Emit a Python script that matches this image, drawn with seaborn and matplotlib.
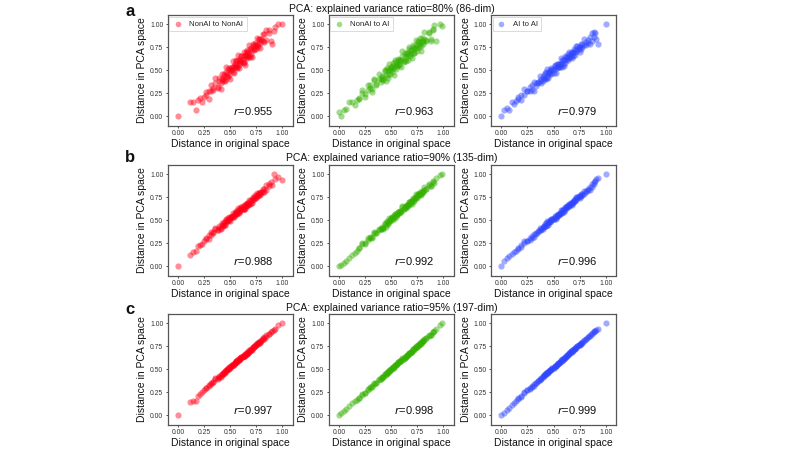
import matplotlib
matplotlib.use("Agg")
import matplotlib.pyplot as plt
import seaborn as sns
import pandas as pd

# ---------------- data ----------------
pair_labels = ["NonAI to NonAI", "NonAI to AI", "AI to AI"]
pca_titles = ["PCA: explained variance ratio=80% (86-dim)",
              "PCA: explained variance ratio=90% (135-dim)",
              "PCA: explained variance ratio=95% (197-dim)"]
panel_letters = ["a", "b", "c"]
r_values = [["0.955", "0.963", "0.979"],
            ["0.988", "0.992", "0.996"],
            ["0.997", "0.998", "0.999"]]

# distances in original space (same pairs for every PCA level)
x_core_nn = [0.27, 0.30, 0.32, 0.34, 0.36, 0.38, 0.39, 0.41, 0.42, 0.43, 0.44, 0.45, 0.46, 0.47,
             0.48, 0.49, 0.50, 0.51, 0.52, 0.53, 0.54, 0.55, 0.56, 0.56, 0.57, 0.58, 0.59, 0.60,
             0.60, 0.61, 0.62, 0.63, 0.63, 0.64, 0.65, 0.66, 0.66, 0.67, 0.68, 0.69, 0.70, 0.71,
             0.72, 0.73, 0.74, 0.75, 0.76, 0.77, 0.78, 0.79, 0.80, 0.82, 0.83, 0.85, 0.87]
x_out_nn = [0.00, 0.12, 0.14, 0.17, 0.19, 0.21, 0.23, 0.25, 0.89, 0.90, 0.92, 0.93, 0.96, 1.00]
x_core_na = [0.19, 0.22, 0.25, 0.28, 0.30, 0.32, 0.34, 0.36, 0.38, 0.40, 0.41, 0.42, 0.44, 0.45,
             0.46, 0.47, 0.48, 0.49, 0.50, 0.51, 0.52, 0.53, 0.54, 0.55, 0.56, 0.57, 0.58, 0.59,
             0.60, 0.61, 0.62, 0.63, 0.64, 0.65, 0.66, 0.67, 0.68, 0.69, 0.70, 0.71, 0.72, 0.73,
             0.74, 0.75, 0.76, 0.77, 0.78, 0.79, 0.80, 0.81, 0.82, 0.84, 0.86, 0.88, 0.90]
x_out_na = [0.00, 0.02, 0.05, 0.07, 0.10, 0.13, 0.15, 0.17, 0.91, 0.93, 0.97, 0.99]
x_core_aa = [0.16, 0.19, 0.22, 0.25, 0.27, 0.29, 0.31, 0.33, 0.35, 0.37, 0.38, 0.40, 0.41, 0.42,
             0.43, 0.44, 0.45, 0.46, 0.47, 0.48, 0.49, 0.50, 0.51, 0.52, 0.53, 0.54, 0.55, 0.56,
             0.57, 0.58, 0.59, 0.60, 0.61, 0.62, 0.63, 0.64, 0.65, 0.66, 0.67, 0.68, 0.69, 0.70,
             0.71, 0.72, 0.73, 0.74, 0.75, 0.76, 0.77, 0.79, 0.81, 0.83, 0.85, 0.87, 0.89]
x_out_aa = [0.00, 0.02, 0.05, 0.07, 0.10, 0.12, 0.14, 0.90, 0.91, 0.93, 1.00]

# distances in PCA space, 80 % (core pairs then outlying pairs), plus a second core sample
y80_nn = [0.26, 0.19, 0.34, 0.29, 0.42, 0.31, 0.38, 0.30, 0.46, 0.38, 0.46, 0.38, 0.53, 0.46,
          0.43, 0.52, 0.41, 0.52, 0.50, 0.60, 0.47, 0.57, 0.54, 0.61, 0.52, 0.67, 0.52, 0.61,
          0.58, 0.65, 0.62, 0.58, 0.70, 0.56, 0.70, 0.66, 0.69, 0.64, 0.77, 0.64, 0.74, 0.64,
          0.79, 0.73, 0.77, 0.73, 0.85, 0.77, 0.84, 0.74, 0.83, 0.89, 0.81, 0.94, 0.90,
          0.00, 0.15, 0.16, 0.07, 0.18, 0.20, 0.16, 0.21, 0.82, 0.79, 0.93, 0.97, 1.00, 1.00]
y80_nn_b = [0.23, 0.28, 0.27, 0.31, 0.36, 0.32, 0.42, 0.36, 0.40, 0.40, 0.44, 0.39, 0.48, 0.44,
            0.51, 0.45, 0.50, 0.50, 0.54, 0.48, 0.55, 0.53, 0.60, 0.56, 0.54, 0.61, 0.56, 0.61,
            0.59, 0.65, 0.59, 0.65, 0.59, 0.67, 0.65, 0.72, 0.63, 0.70, 0.67, 0.73, 0.67, 0.72,
            0.76, 0.72, 0.80, 0.76, 0.79, 0.75, 0.84, 0.80, 0.84, 0.82, 0.89, 0.83, 0.94]
y80_na = [0.19, 0.29, 0.21, 0.34, 0.31, 0.26, 0.39, 0.34, 0.46, 0.37, 0.43, 0.41, 0.50, 0.38,
          0.50, 0.42, 0.57, 0.46, 0.53, 0.51, 0.58, 0.45, 0.61, 0.51, 0.57, 0.62, 0.56, 0.61,
          0.54, 0.71, 0.59, 0.69, 0.63, 0.69, 0.61, 0.75, 0.68, 0.72, 0.63, 0.77, 0.69, 0.74,
          0.83, 0.71, 0.81, 0.75, 0.85, 0.71, 0.82, 0.78, 0.92, 0.83, 0.92, 0.82, 0.94,
          0.05, 0.00, 0.07, 0.08, 0.15, 0.15, 0.12, 0.18, 0.99, 0.82, 1.00, 0.98]
y80_na_b = [0.20, 0.25, 0.24, 0.29, 0.34, 0.30, 0.40, 0.35, 0.40, 0.40, 0.44, 0.39, 0.49, 0.45,
            0.52, 0.45, 0.50, 0.50, 0.54, 0.48, 0.55, 0.52, 0.59, 0.56, 0.55, 0.61, 0.56, 0.61,
            0.60, 0.66, 0.60, 0.65, 0.60, 0.69, 0.67, 0.73, 0.66, 0.72, 0.69, 0.75, 0.69, 0.74,
            0.77, 0.74, 0.82, 0.77, 0.80, 0.76, 0.85, 0.81, 0.84, 0.82, 0.90, 0.84, 0.95]
y80_aa = [0.21, 0.18, 0.30, 0.28, 0.27, 0.34, 0.28, 0.36, 0.36, 0.44, 0.36, 0.43, 0.41, 0.47,
          0.41, 0.51, 0.42, 0.48, 0.46, 0.52, 0.50, 0.47, 0.56, 0.47, 0.57, 0.54, 0.57, 0.54,
          0.63, 0.54, 0.61, 0.55, 0.65, 0.61, 0.64, 0.61, 0.70, 0.64, 0.69, 0.63, 0.69, 0.73,
          0.67, 0.76, 0.72, 0.75, 0.70, 0.79, 0.75, 0.84, 0.77, 0.83, 0.78, 0.90, 0.86,
          0.00, 0.07, 0.09, 0.07, 0.15, 0.13, 0.17, 0.90, 0.84, 0.79, 1.00]
y80_aa_b = [0.19, 0.23, 0.23, 0.28, 0.32, 0.29, 0.37, 0.33, 0.37, 0.38, 0.41, 0.38, 0.45, 0.42,
            0.48, 0.43, 0.47, 0.47, 0.50, 0.46, 0.51, 0.50, 0.55, 0.53, 0.52, 0.57, 0.53, 0.57,
            0.57, 0.61, 0.57, 0.61, 0.58, 0.64, 0.63, 0.68, 0.63, 0.67, 0.66, 0.70, 0.66, 0.70,
            0.72, 0.70, 0.76, 0.73, 0.75, 0.73, 0.79, 0.77, 0.81, 0.80, 0.86, 0.82, 0.91]

# distances in PCA space, 90 %
y90_nn = [0.31, 0.30, 0.37, 0.36, 0.42, 0.39, 0.42, 0.40, 0.47, 0.44, 0.48, 0.45, 0.51, 0.49,
          0.49, 0.53, 0.49, 0.54, 0.54, 0.58, 0.53, 0.58, 0.57, 0.60, 0.57, 0.63, 0.58, 0.62,
          0.60, 0.64, 0.63, 0.62, 0.67, 0.62, 0.68, 0.67, 0.68, 0.67, 0.72, 0.68, 0.72, 0.69,
          0.75, 0.73, 0.75, 0.74, 0.80, 0.77, 0.80, 0.77, 0.81, 0.84, 0.81, 0.88, 0.87,
          0.00, 0.12, 0.15, 0.17, 0.22, 0.23, 0.24, 0.27, 0.92, 0.88, 1.00, 0.95, 0.97, 0.94]
y90_nn_b = [0.30, 0.34, 0.34, 0.37, 0.40, 0.39, 0.44, 0.42, 0.45, 0.45, 0.47, 0.45, 0.50, 0.49,
            0.52, 0.50, 0.52, 0.53, 0.55, 0.53, 0.56, 0.56, 0.59, 0.58, 0.58, 0.61, 0.59, 0.62,
            0.61, 0.64, 0.62, 0.65, 0.62, 0.66, 0.66, 0.69, 0.66, 0.69, 0.68, 0.71, 0.69, 0.72,
            0.74, 0.73, 0.77, 0.75, 0.77, 0.76, 0.80, 0.79, 0.81, 0.81, 0.84, 0.83, 0.89]
y90_na = [0.20, 0.25, 0.24, 0.31, 0.31, 0.31, 0.36, 0.36, 0.41, 0.40, 0.42, 0.42, 0.47, 0.43,
          0.48, 0.46, 0.52, 0.49, 0.52, 0.52, 0.55, 0.51, 0.57, 0.54, 0.57, 0.59, 0.58, 0.60,
          0.59, 0.65, 0.62, 0.66, 0.64, 0.67, 0.65, 0.70, 0.69, 0.71, 0.68, 0.74, 0.72, 0.74,
          0.78, 0.74, 0.78, 0.77, 0.81, 0.77, 0.81, 0.81, 0.86, 0.84, 0.89, 0.87, 0.92,
          0.00, 0.01, 0.04, 0.06, 0.09, 0.12, 0.14, 0.17, 0.90, 0.96, 0.99, 1.00]
y90_na_b = [0.20, 0.24, 0.25, 0.29, 0.32, 0.32, 0.37, 0.36, 0.39, 0.41, 0.43, 0.41, 0.46, 0.45,
            0.49, 0.47, 0.49, 0.50, 0.52, 0.50, 0.54, 0.53, 0.57, 0.56, 0.56, 0.59, 0.58, 0.60,
            0.60, 0.64, 0.62, 0.64, 0.63, 0.67, 0.67, 0.70, 0.68, 0.71, 0.70, 0.73, 0.71, 0.74,
            0.76, 0.75, 0.79, 0.78, 0.79, 0.78, 0.82, 0.81, 0.83, 0.84, 0.88, 0.87, 0.93]
y90_aa = [0.20, 0.21, 0.27, 0.28, 0.29, 0.33, 0.32, 0.36, 0.37, 0.42, 0.39, 0.43, 0.43, 0.46,
          0.44, 0.49, 0.45, 0.48, 0.48, 0.51, 0.51, 0.51, 0.55, 0.51, 0.56, 0.56, 0.57, 0.57,
          0.61, 0.58, 0.61, 0.59, 0.64, 0.63, 0.65, 0.64, 0.68, 0.67, 0.69, 0.67, 0.70, 0.72,
          0.71, 0.75, 0.74, 0.76, 0.74, 0.78, 0.77, 0.82, 0.81, 0.84, 0.83, 0.89, 0.89,
          0.00, 0.06, 0.09, 0.11, 0.13, 0.15, 0.17, 0.93, 0.95, 0.96, 1.00]
y90_aa_b = [0.19, 0.23, 0.25, 0.28, 0.31, 0.31, 0.35, 0.35, 0.38, 0.39, 0.41, 0.41, 0.44, 0.44,
            0.47, 0.45, 0.48, 0.48, 0.50, 0.49, 0.51, 0.51, 0.54, 0.54, 0.54, 0.57, 0.56, 0.58,
            0.58, 0.61, 0.60, 0.62, 0.61, 0.64, 0.64, 0.67, 0.65, 0.68, 0.68, 0.70, 0.69, 0.71,
            0.73, 0.72, 0.75, 0.75, 0.76, 0.76, 0.79, 0.79, 0.82, 0.83, 0.86, 0.86, 0.91]

# distances in PCA space, 95 %
y95_nn = [0.30, 0.32, 0.35, 0.36, 0.40, 0.40, 0.42, 0.42, 0.45, 0.45, 0.47, 0.46, 0.49, 0.49,
          0.50, 0.52, 0.51, 0.53, 0.54, 0.56, 0.55, 0.57, 0.58, 0.59, 0.58, 0.61, 0.60, 0.62,
          0.61, 0.63, 0.64, 0.64, 0.66, 0.64, 0.67, 0.67, 0.68, 0.68, 0.71, 0.70, 0.72, 0.71,
          0.74, 0.74, 0.75, 0.76, 0.78, 0.78, 0.80, 0.79, 0.81, 0.84, 0.83, 0.87, 0.88,
          0.00, 0.14, 0.15, 0.15, 0.21, 0.23, 0.25, 0.27, 0.90, 0.91, 0.93, 0.94, 0.98, 1.00]
y95_nn_b = [0.297, 0.329, 0.343, 0.366, 0.390, 0.399, 0.422, 0.430, 0.444, 0.451, 0.466, 0.465,
            0.488, 0.490, 0.509, 0.506, 0.523, 0.530, 0.544, 0.544, 0.562, 0.566, 0.585, 0.579,
            0.585, 0.604, 0.602, 0.619, 0.616, 0.634, 0.632, 0.649, 0.639, 0.661, 0.666, 0.684,
            0.670, 0.688, 0.692, 0.710, 0.708, 0.725, 0.737, 0.740, 0.761, 0.762, 0.774, 0.777,
            0.799, 0.800, 0.814, 0.826, 0.845, 0.853, 0.886]
y95_na = [0.189, 0.228, 0.243, 0.286, 0.300, 0.310, 0.345, 0.356, 0.390, 0.394, 0.411, 0.418,
          0.447, 0.439, 0.464, 0.462, 0.491, 0.485, 0.502, 0.509, 0.526, 0.518, 0.548, 0.543,
          0.560, 0.575, 0.576, 0.591, 0.590, 0.622, 0.614, 0.637, 0.638, 0.654, 0.652, 0.680,
          0.679, 0.692, 0.689, 0.716, 0.715, 0.730, 0.751, 0.743, 0.765, 0.766, 0.788, 0.778,
          0.801, 0.804, 0.832, 0.838, 0.867, 0.870, 0.904,
          0.00, 0.02, 0.05, 0.07, 0.10, 0.13, 0.15, 0.17, 0.92, 0.94, 0.98, 1.00]
y95_na_b = [0.189, 0.222, 0.247, 0.280, 0.305, 0.314, 0.348, 0.356, 0.381, 0.398, 0.413, 0.413,
            0.446, 0.448, 0.467, 0.465, 0.482, 0.489, 0.504, 0.504, 0.522, 0.527, 0.546, 0.550,
            0.556, 0.575, 0.574, 0.591, 0.598, 0.616, 0.615, 0.632, 0.632, 0.654, 0.659, 0.678,
            0.674, 0.692, 0.697, 0.715, 0.713, 0.730, 0.743, 0.746, 0.767, 0.768, 0.781, 0.784,
            0.806, 0.808, 0.822, 0.835, 0.864, 0.872, 0.906]
y95_aa = [0.184, 0.204, 0.249, 0.270, 0.286, 0.315, 0.321, 0.352, 0.369, 0.398, 0.393, 0.423,
          0.428, 0.446, 0.445, 0.470, 0.462, 0.481, 0.487, 0.504, 0.510, 0.514, 0.537, 0.530,
          0.555, 0.559, 0.572, 0.576, 0.599, 0.593, 0.613, 0.611, 0.636, 0.638, 0.651, 0.655,
          0.678, 0.677, 0.694, 0.692, 0.710, 0.725, 0.724, 0.747, 0.749, 0.763, 0.762, 0.786,
          0.788, 0.820, 0.825, 0.851, 0.860, 0.897, 0.907,
          0.00, 0.03, 0.06, 0.08, 0.11, 0.13, 0.15, 0.92, 0.93, 0.94, 1.00]
y95_aa_b = [0.179, 0.212, 0.237, 0.270, 0.295, 0.304, 0.338, 0.346, 0.371, 0.388, 0.403, 0.413,
            0.436, 0.438, 0.457, 0.455, 0.472, 0.479, 0.494, 0.494, 0.512, 0.517, 0.536, 0.540,
            0.546, 0.565, 0.564, 0.581, 0.588, 0.606, 0.605, 0.622, 0.622, 0.644, 0.649, 0.668,
            0.664, 0.682, 0.687, 0.705, 0.703, 0.720, 0.733, 0.736, 0.757, 0.758, 0.771, 0.774,
            0.796, 0.808, 0.832, 0.845, 0.874, 0.882, 0.916]

x_core = [x_core_nn, x_core_na, x_core_aa]
x_out = [x_out_nn, x_out_na, x_out_aa]
y_main = [[y80_nn, y80_na, y80_aa], [y90_nn, y90_na, y90_aa], [y95_nn, y95_na, y95_aa]]
y_extra = [[y80_nn_b, y80_na_b, y80_aa_b], [y90_nn_b, y90_na_b, y90_aa_b],
           [y95_nn_b, y95_na_b, y95_aa_b]]
colors = ["#ff0018", "#33b000", "#2f45ff"]
tick_vals = [0.0, 0.25, 0.5, 0.75, 1.0]
tick_labels = ["0.00", "0.25", "0.50", "0.75", "1.00"]

# ---------------- style ----------------
sns.set_theme(style="white")
plt.rcParams["font.family"] = ["Liberation Sans", "DejaVu Sans"]

W, H = 793, 453
fig = plt.figure(figsize=(W / 100, H / 100), dpi=100)

col_left = [167.5, 328.5, 491.0]
ax_w = 125.0
row_top = [15.0, 165.0, 314.0]
ax_h = 110.5

for r in range(3):
    for c in range(3):
        ax = fig.add_axes([col_left[c] / W, (H - row_top[r] - ax_h) / H, ax_w / W, ax_h / H])
        xs = x_core[c] + x_out[c] + x_core[c]
        ys = y_main[r][c] + y_extra[r][c]
        df = pd.DataFrame({"x": xs, "y": ys})
        sns.scatterplot(data=df, x="x", y="y", ax=ax, color=colors[c], alpha=0.45,
                        s=20, linewidth=0, label=pair_labels[c] if r == 0 else None,
                        legend=(r == 0))
        ax.set_xlim(-0.1, 1.1)
        ax.set_ylim(-0.1, 1.1)
        ax.set_xticks(tick_vals)
        ax.set_xticklabels(tick_labels)
        ax.set_yticks(tick_vals)
        ax.set_yticklabels(tick_labels)
        ax.tick_params(axis="both", labelsize=4.9, length=1.6, width=0.6, pad=1.5,
                       colors="#333333", bottom=True, left=True)
        for sp in ax.spines.values():
            sp.set_color("#555555")
            sp.set_linewidth(0.9)
        ax.set_xlabel("Distance in original space", fontsize=7.5, labelpad=1.5, color="#111111")
        ax.set_ylabel("Distance in PCA space", fontsize=7.5, labelpad=2, color="#111111")
        ax.text(0.85, 0.13, "$r$=" + r_values[r][c], transform=ax.transAxes,
                ha="right", va="center", fontsize=8, color="#111111")
        if r == 0:
            leg = ax.legend(loc="upper left", fontsize=5.6, frameon=True, fancybox=False,
                            borderpad=0.45, handletextpad=0.9, borderaxespad=0.25,
                            handlelength=1.2, markerscale=0.9)
            leg.get_frame().set_edgecolor("#cccccc")
            leg.get_frame().set_linewidth(0.6)
        else:
            if ax.get_legend() is not None:
                ax.get_legend().remove()

title_y = [9, 158, 308]
letter_y = [12, 158, 309]
for r in range(3):
    fig.text(392 / W, 1 - title_y[r] / H, pca_titles[r], ha="center", va="center",
             fontsize=7.5, color="#111111")
    fig.text(130 / W, 1 - letter_y[r] / H, panel_letters[r], ha="center", va="center",
             fontsize=12, fontweight="bold", color="#111111")

fig.savefig("out.png", dpi=100)
